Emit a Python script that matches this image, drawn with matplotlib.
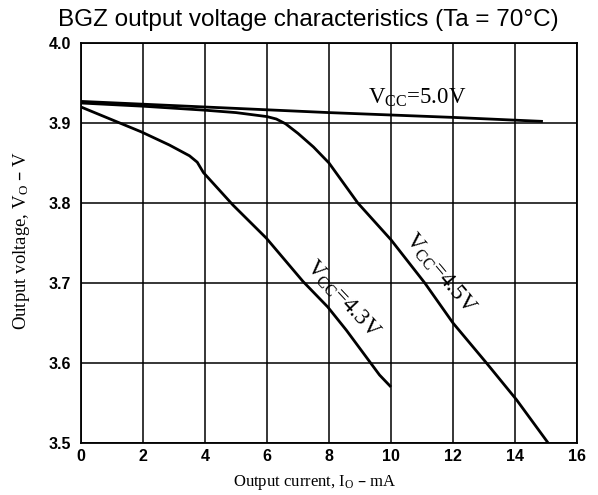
import matplotlib
matplotlib.use("Agg")
import matplotlib.pyplot as plt
import numpy as np

# Output current (mA) / output voltage (V)
io_50 = [0, 4, 8, 12, 14.9]
vo_50 = [3.927, 3.920, 3.913, 3.907, 3.902]

io_45 = [0, 2, 4, 5, 6, 6.3, 6.6, 7, 7.5, 8, 8.93, 10, 11.09, 12, 13.08, 14.05, 15.07]
vo_45 = [3.925, 3.921, 3.916, 3.913, 3.908, 3.905, 3.899, 3.887, 3.870, 3.850, 3.800, 3.754, 3.700, 3.650, 3.600, 3.554, 3.500]

io_43 = [0, 1.94, 2.85, 3.5, 3.75, 3.95, 4.9, 5.98, 7.16, 7.96, 8.56, 9.63, 10]
vo_43 = [3.920, 3.889, 3.8725, 3.859, 3.851, 3.838, 3.7975, 3.756, 3.702, 3.670, 3.641, 3.585, 3.570]

x_ticks = [0, 2, 4, 6, 8, 10, 12, 14, 16]
y_ticks = [3.5, 3.6, 3.7, 3.8, 3.9, 4.0]

serif = "Liberation Serif"
sans = "Liberation Sans"

fig = plt.figure(figsize=(5.98, 4.95), dpi=100)
ax = fig.add_axes([81 / 598, 1 - 443 / 495, (577 - 81) / 598, (443 - 43) / 495])

for xs, ys in [(io_50, vo_50), (io_45, vo_45), (io_43, vo_43)]:
    ax.plot(xs, ys, color="black", lw=2.0, solid_capstyle="butt", zorder=3)

ax.set_xlim(0, 16)
ax.set_ylim(3.5, 4.0)
ax.set_xticks(x_ticks)
ax.set_yticks(y_ticks)
ax.set_xticklabels([str(t) for t in x_ticks], fontfamily=sans, fontweight="bold", fontsize=11.5)
ax.set_yticklabels([f"{t:.1f}" for t in y_ticks], fontfamily=sans, fontweight="bold", fontsize=11.5)
ax.tick_params(length=0, pad=4)
ax.tick_params(axis="y", pad=7)
ax.grid(True, color="black", lw=1.1)
for s in ax.spines.values():
    s.set_linewidth(1.3)

# curve labels
vcc = r"$\mathregular{V_{CC}}$"
ax.text(10.83, 3.931, vcc + "=5.0V", fontfamily=serif, fontsize=16.5,
        ha="center", va="center")
ax.text(11.58, 3.712, vcc + "=4.5V", fontfamily=serif, fontsize=16.5,
        ha="center", va="center", rotation=-50)
ax.text(8.45, 3.679, vcc + "=4.3V", fontfamily=serif, fontsize=16.5,
        ha="center", va="center", rotation=-47)

fig.text(308 / 598, 1 - 20 / 495, "BGZ output voltage characteristics (Ta = 70°C)",
         fontfamily=sans, fontsize=17.5, ha="center", va="center")
fig.text(315 / 598, 1 - 482 / 495, r"Output current, $\mathregular{I_O}$ – mA",
         fontfamily=serif, fontsize=12, ha="center", va="center")
fig.text(22 / 598, 1 - 240 / 495, r"Output voltage, $\mathregular{V_O}$ – V",
         fontfamily=serif, fontsize=13.5, ha="center", va="center", rotation=90)

fig.savefig("out.png", dpi=100)
